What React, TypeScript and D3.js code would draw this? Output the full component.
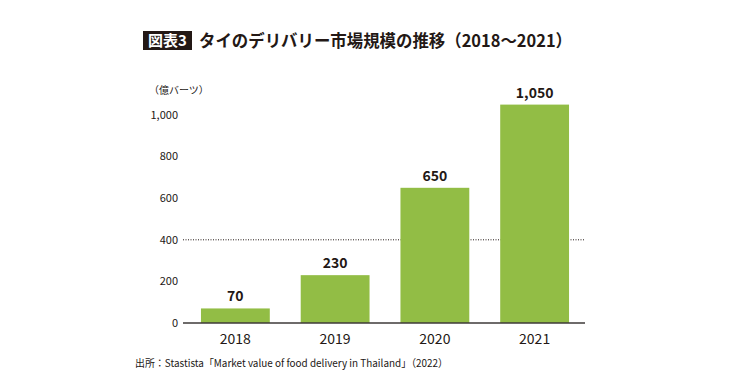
import * as d3 from 'd3'
import React from 'react'

const years = ['2018', '2019', '2020', '2021']
const values = [70, 230, 650, 1050]
const yTicks = [0, 200, 400, 600, 800, 1000]
const gridValues = [400]

const titleTag = '図表3'
const title = 'タイのデリバリー市場規模の推移（2018～2021）'
const unitLabel = '（億バーツ）'
const source = '出所：Stastista「Market value of food delivery in Thailand」（2022）'

const W = 740
const H = 386
const FONT = '"Noto Sans CJK JP", "Noto Sans", sans-serif'
const BAR = '#92bd45'

export default function App() {
  const x = d3.scaleBand<string>()
    .domain(years)
    .range([185, 585])
    .paddingInner(0.31)
    .paddingOuter(0.16)
  const y = d3.scaleLinear().domain([0, 1000]).range([323, 115])
  const fmt = d3.format(',')

  return (
    <svg width={W} height={H} style={{ position: 'absolute', left: 0, top: 0, background: '#fff' }} fontFamily={FONT}>
      {/* title */}
      <rect x={143} y={31} width={49} height={19} fill="#231815" />
      <text x={167.5} y={46} fill="#fff" fontSize={15} fontWeight={700} textAnchor="middle">{titleTag}</text>
      <text x={199} y={47} fill="#231815" fontSize={17} fontWeight={700} textLength={373} lengthAdjust="spacingAndGlyphs">{title}</text>

      <text x={149} y={94} fontSize={10} fill="#231815">{unitLabel}</text>

      {/* dotted line */}
      {gridValues.map(v => (
        <line key={v} x1={183} x2={585} y1={y(v)} y2={y(v)} stroke="#231815" strokeWidth={1} strokeDasharray="1,1.5" />
      ))}

      {/* y tick labels */}
      {yTicks.map(t => (
        <text key={t} x={178} y={y(t)} dy="0.35em" textAnchor="end" fontSize={11} fill="#231815">{fmt(t)}</text>
      ))}

      {/* bars */}
      {years.map((yr, i) => (
        <g key={yr}>
          <rect x={x(yr)} y={y(values[i])} width={x.bandwidth()} height={y(0) - y(values[i])} fill={BAR} />
          <text x={(x(yr) as number) + x.bandwidth() / 2} y={y(values[i]) - 7} textAnchor="middle" fontSize={14} fontWeight={700} fill="#231815">{fmt(values[i])}</text>
          <text x={(x(yr) as number) + x.bandwidth() / 2} y={344} textAnchor="middle" fontSize={14} fill="#231815">{yr}</text>
        </g>
      ))}

      {/* baseline */}
      <line x1={183} x2={585} y1={y(0)} y2={y(0)} stroke="#3e3a39" strokeWidth={1.5} />

      <text x={135} y={367} fontSize={10.5} fill="#231815" textLength={313} lengthAdjust="spacingAndGlyphs">{source}</text>
    </svg>
  )
}
